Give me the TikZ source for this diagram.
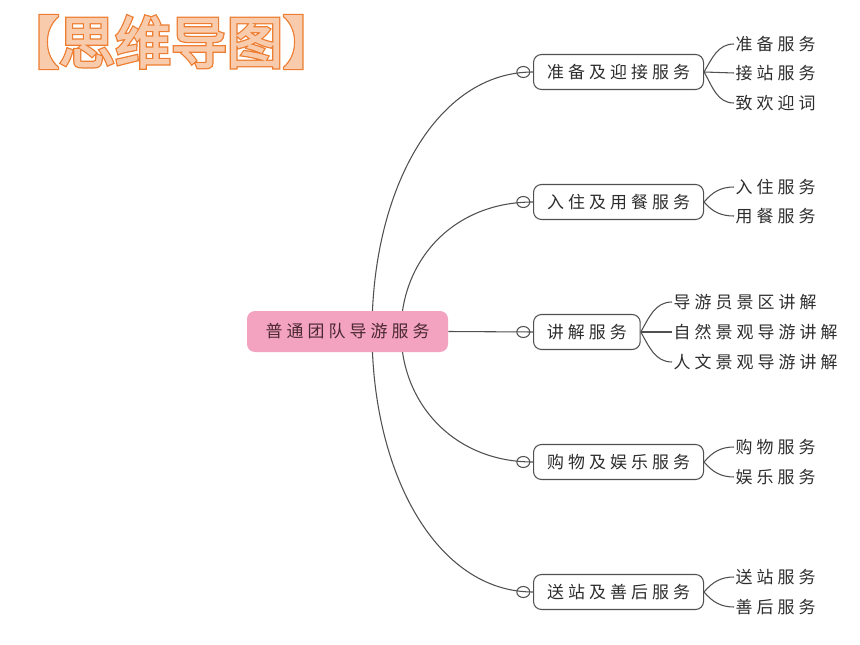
\documentclass[tikz,border=0pt]{standalone}
\usepackage{xcolor}
\usepackage{fontspec}
\usepackage{tikz}
\usetikzlibrary{positioning}
\usetikzlibrary{shapes.geometric}

\newfontfamily\cjk[LetterSpace=24]{Noto Sans CJK SC}
\newfontfamily\titleout[FakeBold=7]{Noto Sans CJK SC}
\newfontfamily\titlein[FakeBold=2.5]{Noto Sans CJK SC}

\definecolor{hubpink}{RGB}{243,163,192}
\definecolor{hubtext}{RGB}{75,40,50}
\definecolor{linegray}{RGB}{80,80,80}
\definecolor{txtgray}{RGB}{45,45,45}
\definecolor{titleorange}{RGB}{237,125,49}
\definecolor{titlelight}{RGB}{248,203,173}

\begin{document}
\begin{tikzpicture}[x=0.75pt,y=-0.75pt,
	every node/.style={font=\cjk\fontsize{12.7}{15}\selectfont, text=txtgray},
	hub/.style={rectangle, rounded corners=6pt, fill=hubpink, minimum width=150.75pt, minimum height=30.75pt, text=hubtext},
	topic/.style={rectangle, rounded corners=6pt, draw=linegray, line width=0.8pt, minimum height=26.25pt, anchor=west},
	knob/.style={ellipse, draw=linegray, line width=0.8pt, minimum width=9.75pt, minimum height=8.25pt, inner sep=0pt},
	leaf/.style={inner sep=1pt, anchor=west},
	link/.style={draw=linegray, line width=0.8pt}]
	\useasboundingbox (0,0) rectangle (860,645);

	\node[font=\titleout\fontsize{42}{50}\selectfont, text=titleorange] (title) at (171,42) {【思维导图】};
	\node[font=\titlein\fontsize{42}{50}\selectfont, text=titlelight] (titlefill) at (title) {【思维导图】};

	\node[topic, minimum width=127.5pt] (b1) at (533,72) {准备及迎接服务};
	\node[topic, minimum width=127.5pt] (b2) at (533,202) {入住及用餐服务};
	\node[topic, minimum width=80pt] (b3) at (533,332) {讲解服务};
	\node[topic, minimum width=127.5pt] (b4) at (533,462) {购物及娱乐服务};
	\node[topic, minimum width=127.5pt] (b5) at (533,592) {送站及善后服务};

	\node[knob] (k1) [left=2pt of b1] {};
	\node[knob] (k2) [left=2pt of b2] {};
	\node[knob] (k3) [left=2pt of b3] {};
	\node[knob] (k4) [left=2pt of b4] {};
	\node[knob] (k5) [left=2pt of b5] {};

	\coordinate (ro) at (372,331.5);
	\coordinate (ri) at (401,331.5);
	\draw[link] (ro) .. controls +(0,-143) and +(-96,0) .. (b1.west);
	\draw[link] (ri) .. controls +(0,-71) and +(-80,0) .. (b2.west);
	\draw[link] (ri) .. controls +(0,71) and +(-80,0) .. (b4.west);
	\draw[link] (ro) .. controls +(0,143) and +(-96,0) .. (b5.west);

	\node[hub] (hub) at (347.5,331.5) {普通团队导游服务};
	\draw[link] (hub.east) -- (b3.west);

	\node[leaf] (l11) at (734,44) {准备服务};
	\node[leaf] (l12) at (734,73) {接站服务};
	\node[leaf] (l13) at (734,103) {致欢迎词};
	\node[leaf] (l21) at (734,187) {入住服务};
	\node[leaf] (l22) at (734,216) {用餐服务};
	\node[leaf] (l31) at (672,302) {导游员景区讲解};
	\node[leaf] (l32) at (672,332) {自然景观导游讲解};
	\node[leaf] (l33) at (672,362) {人文景观导游讲解};
	\node[leaf] (l41) at (734,447) {购物服务};
	\node[leaf] (l42) at (734,477) {娱乐服务};
	\node[leaf] (l51) at (734,577) {送站服务};
	\node[leaf] (l52) at (734,607) {善后服务};

	\draw[link] (b1.east) to[out=60,in=180] (l11.west);
	\draw[link] (b1.east) -- (l12.west);
	\draw[link] (b1.east) to[out=-60,in=180] (l13.west);
	\draw[link] (b2.east) to[out=50,in=180] (l21.west);
	\draw[link] (b2.east) to[out=-50,in=180] (l22.west);
	\draw[link] (b3.east) to[out=60,in=180] (l31.west);
	\draw[link] (b3.east) -- (l32.west);
	\draw[link] (b3.east) to[out=-60,in=180] (l33.west);
	\draw[link] (b4.east) to[out=50,in=180] (l41.west);
	\draw[link] (b4.east) to[out=-50,in=180] (l42.west);
	\draw[link] (b5.east) to[out=50,in=180] (l51.west);
	\draw[link] (b5.east) to[out=-50,in=180] (l52.west);
\end{tikzpicture}
\end{document}
